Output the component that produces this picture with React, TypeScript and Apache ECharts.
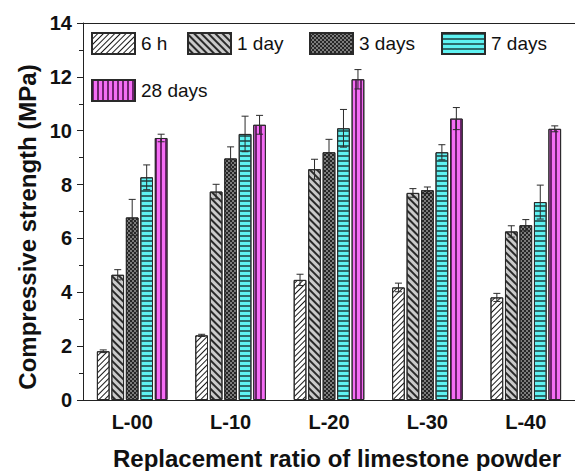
import React, { useEffect, useRef } from "react";
import * as echarts from "echarts";

// Mixes with limestone powder replacement
const categories = ["L-00", "L-10", "L-20", "L-30", "L-40"];
const ageNames = ["6 h", "1 day", "3 days", "7 days", "28 days"];

// Mean compressive strength (MPa) and standard deviation per curing age
const strength6h = [1.81, 2.4, 4.46, 4.18, 3.81];
const error6h = [0.05, 0.04, 0.21, 0.16, 0.15];
const strength1d = [4.65, 7.74, 8.57, 7.69, 6.26];
const error1d = [0.19, 0.27, 0.37, 0.16, 0.21];
const strength3d = [6.78, 8.97, 9.2, 7.79, 6.49];
const error3d = [0.67, 0.43, 0.48, 0.12, 0.21];
const strength7d = [8.27, 9.88, 10.09, 9.2, 7.35];
const error7d = [0.46, 0.66, 0.7, 0.28, 0.63];
const strength28d = [9.73, 10.22, 11.91, 10.45, 10.07];
const error28d = [0.14, 0.35, 0.36, 0.41, 0.11];

const yTicks = [0, 2, 4, 6, 8, 10, 12, 14];

const FONT = "'Liberation Sans', Arial, sans-serif";
const BAR_W = 12.7;
const BAR_GAP = 0.14;
const PITCH = BAR_W * (1 + BAR_GAP);

const fills = ["#ffffff", "#cacaca", "#7c7c7c", "#5ff2f2", "#f56ef5"];
const decals: any[] = [
  { symbol: "rect", symbolSize: 1, dashArrayX: [1, 0], dashArrayY: [1, 2.4], rotation: -Math.PI / 4, color: "#1a1a1a" },
  { symbol: "rect", symbolSize: 1, dashArrayX: [1, 0], dashArrayY: [1.1, 2.5], rotation: Math.PI / 4, color: "#2a2a2a" },
  { symbol: "rect", symbolSize: 1, dashArrayX: [[2, 2], [0, 2, 2, 0]], dashArrayY: [2, 0], color: "#262626" },
  { symbol: "rect", symbolSize: 1, dashArrayX: [1, 0], dashArrayY: [1.3, 2.7], color: "#2c6c6c" },
  { symbol: "rect", symbolSize: 1, dashArrayX: [1.3, 2.7], dashArrayY: [1, 0], color: "#6e236e" },
];

const values = [strength6h, strength1d, strength3d, strength7d, strength28d];
const errors = [error6h, error1d, error3d, error7d, error28d];

// legend placement (icon left, top)
const legendPos = [
  [91, 32],
  [187, 32],
  [309, 32],
  [441, 32],
  [91, 79],
];

export default function App() {
  const ref = useRef<HTMLDivElement>(null);

  useEffect(() => {
    if (!ref.current) return;
    const chart = echarts.init(ref.current, undefined, { renderer: "svg" });

    const barSeries = ageNames.map((name, i) => ({
      name,
      type: "bar",
      xAxisIndex: 0,
      yAxisIndex: 0,
      barWidth: BAR_W,
      barGap: `${BAR_GAP * 100}%`,
      data: values[i],
      itemStyle: {
        color: fills[i],
        borderColor: "#2a2a2a",
        borderWidth: 1,
        decal: decals[i],
      },
      emphasis: { disabled: true },
    }));

    const errorSeries = ageNames.map((name, i) => ({
      name: name + " error",
      type: "custom",
      xAxisIndex: 0,
      yAxisIndex: 0,
      z: 5,
      silent: true,
      data: categories.map((_, c) => [c, values[i][c], errors[i][c]]),
      encode: { x: 0, y: 1 },
      renderItem: (_params: any, api: any) => {
        const c = api.value(0);
        const v = api.value(1);
        const e = api.value(2);
        const x = api.coord([c, v])[0] + (i - 2) * PITCH;
        const yTop = api.coord([c, v + e])[1];
        const yBot = api.coord([c, v - e])[1];
        const st = { stroke: "#2b2b2b", lineWidth: 1 };
        const cap = 3.5;
        return {
          type: "group",
          children: [
            { type: "line", shape: { x1: x, y1: yTop, x2: x, y2: yBot }, style: st },
            { type: "line", shape: { x1: x - cap, y1: yTop, x2: x + cap, y2: yTop }, style: st },
            { type: "line", shape: { x1: x - cap, y1: yBot, x2: x + cap, y2: yBot }, style: st },
          ],
        };
      },
    }));

    const axisColor = "#222";

    chart.setOption({
      animation: false,
      backgroundColor: "#ffffff",
      grid: { left: 83, top: 23, width: 500, height: 377, containLabel: false },
      legend: ageNames.map((name, i) => ({
        data: [name],
        left: legendPos[i][0],
        top: legendPos[i][1],
        padding: 0,
        itemWidth: 43,
        itemHeight: 21,
        itemGap: 0,
        icon: "rect",
        selectedMode: false,
        textStyle: { fontFamily: FONT, fontSize: 19, color: "#111", padding: [0, 0, 0, 1] },
      })),
      xAxis: [
        {
          type: "category",
          data: categories,
          position: "bottom",
          axisLine: { lineStyle: { color: axisColor, width: 1 } },
          axisTick: { alignWithLabel: true, length: 6, lineStyle: { color: axisColor } },
          axisLabel: { fontFamily: FONT, fontSize: 20, fontWeight: "bold", color: "#111", margin: 12 },
          splitLine: { show: false },
        },
        {
          type: "category",
          data: categories,
          position: "bottom",
          axisLine: { show: false },
          axisTick: { length: 3, lineStyle: { color: axisColor } },
          axisLabel: { show: false },
          splitLine: { show: false },
        },
        {
          type: "category",
          data: categories,
          position: "top",
          axisLine: { lineStyle: { color: axisColor, width: 1 } },
          axisTick: { inside: true, length: 3, lineStyle: { color: axisColor } },
          axisLabel: { show: false },
          splitLine: { show: false },
        },
        {
          type: "category",
          data: categories,
          position: "top",
          axisLine: { show: false },
          axisTick: { inside: true, alignWithLabel: true, length: 3, lineStyle: { color: axisColor } },
          axisLabel: { show: false },
          splitLine: { show: false },
        },
      ],
      yAxis: {
        type: "value",
        min: yTicks[0],
        max: yTicks[yTicks.length - 1],
        interval: yTicks[1] - yTicks[0],
        axisLine: { show: true, lineStyle: { color: axisColor, width: 1 } },
        axisTick: { show: true, length: 6, lineStyle: { color: axisColor } },
        minorTick: { show: true, splitNumber: 2, length: 4, lineStyle: { color: axisColor } },
        axisLabel: { fontFamily: FONT, fontSize: 20, fontWeight: "bold", color: "#111", margin: 11 },
        splitLine: { show: false },
      },
      graphic: [
        {
          type: "text",
          x: 27,
          y: 227,
          rotation: Math.PI / 2,
          style: {
            text: "Compressive strength (MPa)",
            font: `bold 24px ${FONT}`,
            fill: "#111",
            textAlign: "center",
            textVerticalAlign: "middle",
          },
        },
        {
          type: "text",
          x: 337,
          y: 458,
          style: {
            text: "Replacement ratio of limestone powder",
            font: `bold 24px ${FONT}`,
            fill: "#111",
            textAlign: "center",
            textVerticalAlign: "middle",
          },
        },
      ],
      series: [...barSeries, ...errorSeries],
    });

    return () => chart.dispose();
  }, []);

  return (
    <div
      ref={ref}
      style={{ position: "fixed", left: 0, top: 0, width: 575, height: 471, background: "#fff" }}
    />
  );
}
